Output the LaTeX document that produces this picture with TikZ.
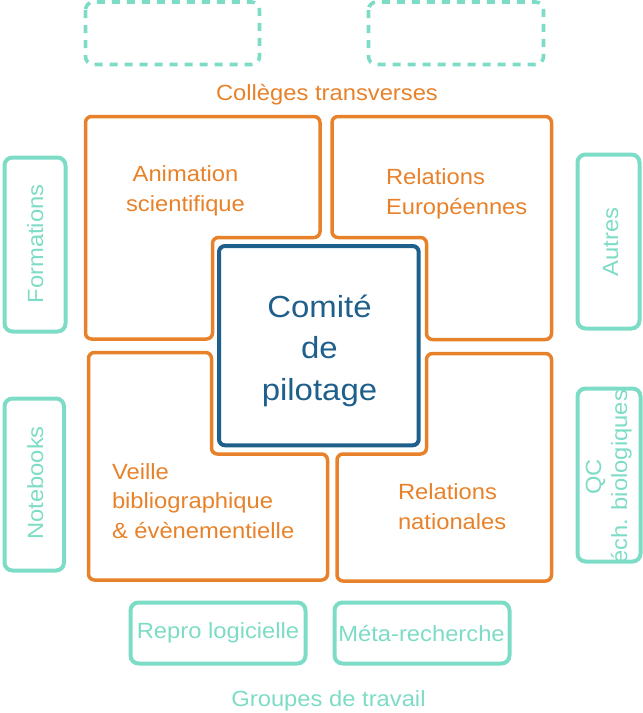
\documentclass[tikz,border=0pt]{standalone}
\usepackage{fontspec}
\setmainfont{Liberation Sans}[FakeStretch=1.08]
\definecolor{tealc}{HTML}{7DDCC5}
\definecolor{orng}{HTML}{E8822A}
\definecolor{blu}{HTML}{1F5F8B}
\begin{document}
\begin{tikzpicture}[x=1pt,y=-1pt,
  every node/.style={inner sep=0pt, outer sep=0pt},
  tealbox/.style={draw=tealc, line width=4pt, rounded corners=8pt},
  dashbox/.style={draw=tealc, line width=3.6pt, dash pattern=on 8pt off 7pt, rounded corners=8pt},
  lbox/.style={draw=orng, line width=3.5pt, rounded corners=6pt},
  bluebox/.style={draw=blu, line width=4pt, rounded corners=6pt},
  otext/.style={text=orng, font=\fontsize{22}{29.5}\selectfont},
  ttext/.style={text=tealc, font=\fontsize{22}{26}\selectfont},
  btext/.style={text=blu, font=\fontsize{30.5}{41.5}\selectfont, align=center},
]
\useasboundingbox (0,0) rectangle (643,713);

% top dashed boxes
\draw[dashbox] (85.5,2) rectangle (259.5,64.5);
\draw[dashbox] (368.5,2) rectangle (543.5,64.5);
\node[otext, anchor=base] (coll) at (327,100) {Collèges transverses};

% orange L-shaped boxes
\draw[lbox] (85.5,116.5) -- (320,116.5) -- (320,237.5) -- (212.5,237.5) -- (212.5,339) -- (85.5,339) -- cycle;
\draw[lbox] (332,116.5) -- (551.5,116.5) -- (551.5,339.5) -- (426.5,339.5) -- (426.5,237.5) -- (332,237.5) -- cycle;
\draw[lbox] (88.5,352.5) -- (211.5,352.5) -- (211.5,454) -- (327.5,454) -- (327.5,580) -- (88.5,580) -- cycle;
\draw[lbox] (426.5,353.5) -- (551.5,353.5) -- (551.5,581) -- (337,581) -- (337,454) -- (426.5,454) -- cycle;

\node[otext, anchor=base, align=center] (anim) at (185.5,211) {Animation\\scientifique};
\node[otext, anchor=base west, align=left] (releu) at (386,214) {Relations\\Européennes};
\node[otext, anchor=base west, align=left] (veille) at (112,538) {Veille\\bibliographique\\\& évènementielle};
\node[otext, anchor=base west, align=left] (relnat) at (398,529) {Relations\\nationales};

% central box
\draw[bluebox] (219,246) rectangle (418.7,445.3);
\node[btext, anchor=base] (comite) at (319.5,400) {Comité\\de\\pilotage};

% side teal boxes
\draw[tealbox] (4.5,157.5) rectangle (65.5,331.5);
\node[ttext, rotate=90, anchor=base] (form) at (43,244) {Formations};
\draw[tealbox] (4.5,398.5) rectangle (64,570.5);
\node[ttext, rotate=90, anchor=base] (note) at (43,483) {Notebooks};
\draw[tealbox] (577.5,154.5) rectangle (639.5,328.5);
\node[ttext, rotate=90, anchor=base] (autres) at (618,242) {Autres};
\draw[tealbox] (577.5,388.5) rectangle (640.5,561.5);
\node[ttext, rotate=90, anchor=base, align=center] (qc) at (627,477) {QC\\éch. biologiques};

% bottom teal boxes
\draw[tealbox] (130.5,602.5) rectangle (305.5,663.5);
\node[ttext, anchor=base] (repro) at (218,638) {Repro logicielle};
\draw[tealbox] (334.5,602.5) rectangle (509.5,663.5);
\node[ttext, anchor=base] (meta) at (421.5,641.5) {Méta-recherche};
\node[ttext, anchor=base] (grp) at (328.5,706.5) {Groupes de travail};
\end{tikzpicture}
\end{document}
